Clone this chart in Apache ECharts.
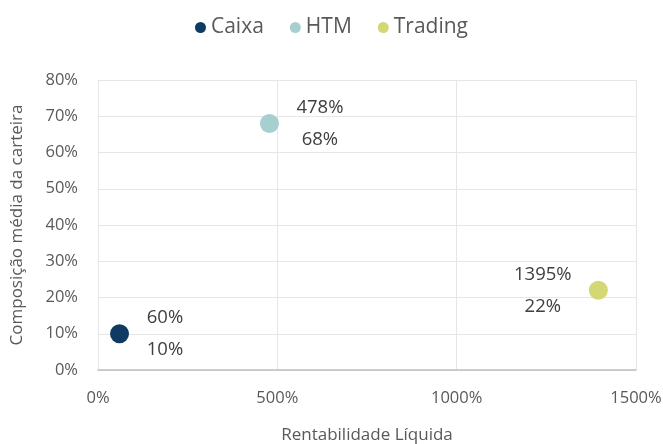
<!DOCTYPE html>
<html>
<head>
<meta charset="utf-8">
<script src="https://cdn.jsdelivr.net/npm/echarts@6/dist/echarts.min.js"></script>
<style>
  html, body { margin: 0; padding: 0; background: #fff; }
  #chart { width: 663px; height: 444px; }
</style>
</head>
<body>
<div id="chart"></div>
<script>
// dados
const seriesNames = ['Caixa', 'HTM', 'Trading'];
const rentabilidade = [60, 478, 1395]; // %
const composicao = [10, 68, 22]; // %
const colors = ['#0f3b63', '#a8cfcf', '#d4d776'];
// posição do rótulo (direita/esquerda) e distância
const labelPos = ['right', 'right', 'left'];
const labelDist = [36, 41, 46];

const font = '"Open Sans", sans-serif';

const chart = echarts.init(document.getElementById('chart'));

const series = seriesNames.map((name, i) => ({
  name: name,
  type: 'scatter',
  symbolSize: 19,
  itemStyle: { color: colors[i], opacity: 1 },
  label: {
    show: true,
    position: labelPos[i],
    distance: labelDist[i],
    align: 'center',
    fontFamily: font,
    fontSize: 18.5,
    lineHeight: 32,
    color: '#404040',
    formatter: (p) => p.value[0] + '%\n' + p.value[1] + '%',
  },
  data: [[rentabilidade[i], composicao[i]]],
}));

const option = {
  animation: false,
  textStyle: { fontFamily: font },
  legend: {
    top: 12,
    left: 'center',
    icon: 'circle',
    itemWidth: 11,
    itemHeight: 11,
    itemGap: 26,
    textStyle: { fontSize: 21, color: '#595959', fontFamily: font },
    data: seriesNames,
  },
  grid: { left: 98, right: 27, top: 80, bottom: 74, outerBoundsMode: 'none' },
  xAxis: {
    type: 'value',
    min: 0,
    max: 1500,
    interval: 500,
    name: 'Rentabilidade Líquida',
    nameLocation: 'middle',
    nameGap: 57,
    nameTextStyle: { fontSize: 17, color: '#595959', fontFamily: font },
    axisLine: { show: true, lineStyle: { color: '#bfbfbf', width: 1.5 } },
    axisTick: { show: false },
    axisLabel: { fontSize: 16.5, color: '#595959', margin: 20, formatter: (v) => v + '%' },
    splitLine: { show: true, lineStyle: { color: '#e6e6e6' } },
  },
  yAxis: {
    type: 'value',
    min: 0,
    max: 80,
    interval: 10,
    name: 'Composição média da carteira',
    nameLocation: 'middle',
    nameGap: 72,
    nameTextStyle: { fontSize: 17, color: '#595959', fontFamily: font },
    axisLine: { show: false },
    axisTick: { show: false },
    axisLabel: { fontSize: 16.5, color: '#595959', margin: 20, formatter: (v) => v + '%' },
    splitLine: { show: true, lineStyle: { color: '#e6e6e6' } },
  },
  series: series,
};

chart.setOption(option);
</script>
</body>
</html>
